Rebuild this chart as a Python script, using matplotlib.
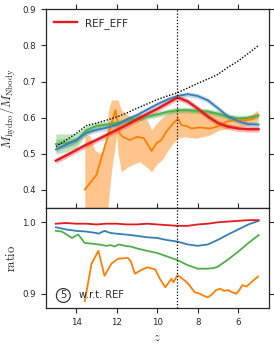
import numpy as np
import matplotlib
matplotlib.use("Agg")
import matplotlib.pyplot as plt

plt.rcParams['mathtext.fontset'] = 'cm'
plt.rcParams['font.family'] = ['DejaVu Sans']

# ---------------- data (top panel) ----------------
z_main = [15, 14.5, 14, 13.5, 13, 12.5, 12, 11.5, 11, 10.5, 10, 9.5, 9, 8.5, 8, 7.5, 7, 6.5, 6, 5.5, 5]
red_top = [0.481, 0.495, 0.510, 0.525, 0.538, 0.552, 0.566, 0.580, 0.595, 0.610, 0.624, 0.640, 0.656, 0.645, 0.625, 0.603, 0.585, 0.575, 0.570, 0.568, 0.568]
blue_top = [0.512, 0.525, 0.538, 0.558, 0.566, 0.572, 0.580, 0.595, 0.607, 0.622, 0.637, 0.650, 0.660, 0.665, 0.660, 0.648, 0.626, 0.603, 0.590, 0.582, 0.581]
green_top = [0.527, 0.530, 0.536, 0.565, 0.577, 0.581, 0.585, 0.592, 0.598, 0.603, 0.609, 0.616, 0.621, 0.621, 0.619, 0.617, 0.611, 0.603, 0.598, 0.600, 0.606]
green_err = [0.028, 0.025, 0.020, 0.013, 0.010, 0.009, 0.008, 0.008, 0.008, 0.008, 0.008, 0.008, 0.008, 0.008, 0.008, 0.008, 0.008, 0.008, 0.008, 0.008, 0.008]
black_top = [0.520, 0.538, 0.556, 0.578, 0.585, 0.593, 0.602, 0.613, 0.626, 0.638, 0.650, 0.660, 0.669, 0.682, 0.695, 0.707, 0.720, 0.740, 0.757, 0.778, 0.800]
red_err = 0.008
blue_err = 0.007

z_or = [13.57, 13.0, 12.06, 11.85, 11.7, 11.35, 11.0, 10.65, 10.28, 10.04, 9.8, 9.55, 9.22, 8.97, 8.8, 8.56, 8.3, 7.9, 7.4, 6.93, 6.6, 6.1, 5.64, 5.3, 5.03]
or_top = [0.401, 0.441, 0.621, 0.556, 0.547, 0.538, 0.547, 0.543, 0.508, 0.529, 0.538, 0.561, 0.584, 0.597, 0.579, 0.577, 0.570, 0.573, 0.570, 0.577, 0.589, 0.593, 0.593, 0.596, 0.607]

z_orb = [13.57, 13.33, 13.08, 12.83, 12.59, 12.45, 12.42, 12.26, 12.0, 11.93, 11.77, 11.44, 11.1, 10.86, 10.45, 10.28, 10.04, 9.71, 9.47, 9.22, 8.97, 8.64, 8.07, 7.41, 6.92, 6.43, 5.94, 5.45, 5.03]
or_lo = [0.30, 0.30, 0.30, 0.30, 0.30, 0.30, 0.36, 0.45, 0.552, 0.50, 0.45, 0.464, 0.473, 0.478, 0.46, 0.45, 0.47, 0.487, 0.51, 0.529, 0.543, 0.547, 0.543, 0.552, 0.566, 0.570, 0.575, 0.579, 0.589]
or_hi = [0.556, 0.550, 0.510, 0.501, 0.515, 0.58, 0.616, 0.649, 0.649, 0.649, 0.621, 0.607, 0.60, 0.612, 0.589, 0.566, 0.584, 0.603, 0.612, 0.621, 0.622, 0.622, 0.621, 0.616, 0.610, 0.605, 0.600, 0.605, 0.621]

# ---------------- data (ratio panel) ----------------
z_rr = [15, 14.5, 14, 13.5, 13, 12.5, 12, 11.5, 11, 10.5, 10, 9.5, 9, 8.5, 8, 7.5, 7, 6.5, 6, 5.5, 5]
red_ratio = [0.998, 0.999, 0.998, 0.998, 0.997, 0.998, 0.998, 0.997, 0.997, 0.998, 0.997, 0.996, 0.995, 0.995, 0.997, 0.998, 1.000, 1.001, 1.002, 1.003, 1.003]

z_br = [15, 14.5, 14, 13.5, 13, 12.9, 12.6, 12.3, 12, 11.6, 11, 10.5, 10, 9.5, 9, 8.5, 8, 7.5, 7, 6.5, 6, 5.5, 5]
blue_ratio = [0.993, 0.990, 0.988, 0.987, 0.985, 0.984, 0.988, 0.985, 0.984, 0.983, 0.981, 0.979, 0.978, 0.975, 0.973, 0.969, 0.967, 0.969, 0.9755, 0.983, 0.990, 0.997, 1.002]

z_gr = [15, 14.7, 14.2, 13.9, 13.57, 13.2, 12.9, 12.5, 12.3, 12.1, 11.9, 11.6, 11.3, 10.95, 10.5, 10, 9.5, 9, 8.5, 8, 7.5, 7.2, 7, 6.5, 6, 5.5, 5]
green_ratio = [0.988, 0.987, 0.978, 0.983, 0.971, 0.970, 0.969, 0.967, 0.968, 0.966, 0.969, 0.967, 0.966, 0.963, 0.960, 0.957, 0.952, 0.947, 0.940, 0.935, 0.935, 0.936, 0.938, 0.948, 0.959, 0.971, 0.982]

z_orr = [13.57, 13.24, 12.9, 12.6, 12.26, 11.93, 11.44, 11.3, 11.1, 10.8, 10.5, 10.1, 9.85, 9.6, 9.3, 9.2, 9.0, 8.8, 8.5, 8.15, 7.9, 7.7, 7.5, 7.3, 7.1, 6.9, 6.7, 6.5, 6.3, 6.1, 5.95, 5.8, 5.6, 5.4, 5.2, 5.03]
or_ratio = [0.890, 0.942, 0.960, 0.925, 0.942, 0.949, 0.950, 0.945, 0.928, 0.933, 0.937, 0.934, 0.920, 0.909, 0.921, 0.916, 0.926, 0.922, 0.915, 0.902, 0.900, 0.897, 0.895, 0.899, 0.905, 0.907, 0.904, 0.905, 0.902, 0.900, 0.905, 0.912, 0.910, 0.915, 0.920, 0.924]

xticks = [14, 12, 10, 8, 6]
z_mark = 9.0

RED = '#e41a1c'
BLUE = '#377eb8'
GREEN = '#4daf4a'
ORANGE = '#ff7f00'
DARK = '0.15'

fig = plt.figure(figsize=(2.74, 3.47), dpi=100)
left, right = 0.1668, 0.9807
ax1 = fig.add_axes([left, 0.4006, right - left, 0.9732 - 0.4006])
ax2 = fig.add_axes([left, 0.1124, right - left, 0.4006 - 0.1124], sharex=ax1)

zm = np.array(z_main)
ax1.fill_between(z_orb, or_lo, or_hi, color=ORANGE, alpha=0.45, lw=0, zorder=1)
g = np.array(green_top); ge = np.array(green_err)
ax1.fill_between(zm, g - ge, g + ge, color=GREEN, alpha=0.35, lw=0, zorder=2)
ax1.fill_between(zm, g - ge * 0.5, g + ge * 0.5, color=GREEN, alpha=0.35, lw=0, zorder=2)
b = np.array(blue_top)
ax1.fill_between(zm, b - blue_err, b + blue_err, color=BLUE, alpha=0.3, lw=0, zorder=2)
r = np.array(red_top)
ax1.fill_between(zm, r - red_err, r + red_err, color=RED, alpha=0.3, lw=0, zorder=2)

ax1.plot(z_or, or_top, color=ORANGE, lw=1.3, zorder=3)
ax1.plot(zm, g, color=GREEN, lw=1.3, zorder=3)
ax1.plot(zm, b, color=BLUE, lw=1.3, zorder=3)
ax1.plot(zm, r, color=RED, lw=1.7, zorder=4, label='REF_EFF')
ax1.plot(zm, black_top, color='k', ls=(0, (1, 1.2)), lw=1.0, zorder=5)
ax1.axvline(z_mark, color='k', ls=(0, (1, 1.5)), lw=0.9, zorder=6)

ax1.set_ylim(0.35, 0.9)
ax1.set_yticks([0.4, 0.5, 0.6, 0.7, 0.8, 0.9])
ax1.set_xlim(15.5, 4.5)
ax1.set_xticks(xticks)
ax1.tick_params(axis='x', which='both', top=True, bottom=False, labelbottom=False,
                direction='out', length=3.5, width=0.8, colors=DARK)
ax1.tick_params(axis='y', which='both', left=True, right=True, direction='out',
                length=3.5, width=0.8, labelsize=6.2, colors=DARK)
ax1.set_ylabel(r'$M_{\rm hydro}/M_{\rm Nbody}$', fontsize=9, color=DARK, labelpad=3)
leg = ax1.legend(loc='upper left', frameon=False, fontsize=7.5, handlelength=2.2,
                 borderaxespad=0.4, handletextpad=0.8)
for t in leg.get_texts():
    t.set_color(DARK)

ax2.plot(z_orr, or_ratio, color=ORANGE, lw=1.3)
ax2.plot(z_gr, green_ratio, color=GREEN, lw=1.3)
ax2.plot(z_br, blue_ratio, color=BLUE, lw=1.3)
ax2.plot(z_rr, red_ratio, color=RED, lw=1.3)
ax2.axvline(z_mark, color='k', ls=(0, (1, 1.5)), lw=0.9)
ax2.set_ylim(0.88, 1.02)
ax2.set_yticks([0.9, 1.0])
ax2.set_xticks(xticks)
ax2.tick_params(axis='x', which='both', top=True, bottom=True, labelbottom=True,
                direction='out', length=3.5, width=0.8, labelsize=6.2, colors=DARK)
ax2.tick_params(axis='y', which='both', left=True, right=True, direction='out',
                length=3.5, width=0.8, labelsize=6.2, colors=DARK)
ax2.set_ylabel(r'$\rm ratio$', fontsize=9, color=DARK, labelpad=3)
ax2.set_xlabel(r'$z$', fontsize=9, color=DARK, labelpad=3)
ax2.text(0.079, 0.125, '5', transform=ax2.transAxes, fontsize=7, ha='center', va='center',
         color=DARK, bbox=dict(boxstyle='circle,pad=0.2', fc='none', ec=DARK, lw=0.8))
ax2.text(0.148, 0.125, 'w.r.t. REF', transform=ax2.transAxes, fontsize=7, ha='left', va='center',
         color=DARK)

for ax in (ax1, ax2):
    for s in ax.spines.values():
        s.set_color(DARK)
        s.set_linewidth(0.9)

fig.savefig('out.png', dpi=100)
